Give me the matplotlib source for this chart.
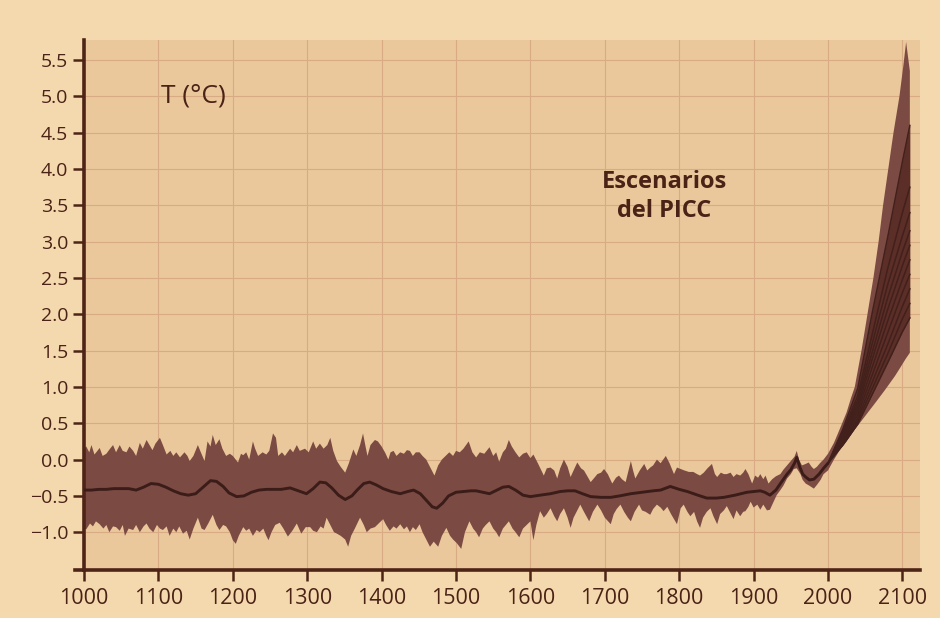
import numpy as np
import matplotlib
matplotlib.use("Agg")
import matplotlib.pyplot as plt

# ---------------- data ----------------
hist_up_years = [1000,1003,1007,1010,1014,1018,1021,1025,1030,1035,1039,1043,1048,1052,1057,1061,1066,1070,1075,1079,
    1084,1088,1092,1096,1102,1106,1111,1116,1120,1124,1129,1135,1139,1142,1147,1153,1157,1162,1166,1170,
    1173,1177,1182,1186,1191,1196,1200,1207,1211,1214,1218,1222,1227,1230,1234,1240,1245,1249,1254,1258,
    1261,1266,1270,1277,1281,1286,1290,1297,1302,1308,1312,1317,1322,1327,1331,1335,1340,1345,1351,1356,
    1362,1366,1371,1375,1378,1381,1385,1391,1395,1400,1405,1409,1412,1416,1420,1425,1430,1434,1438,1442,
    1446,1451,1455,1460,1465,1471,1476,1481,1487,1491,1496,1500,1505,1510,1517,1522,1527,1532,1538,1545,
    1550,1554,1558,1563,1567,1571,1575,1580,1585,1590,1595,1600,1604,1610,1618,1622,1627,1632,1636,1640,
    1645,1650,1654,1658,1663,1668,1672,1676,1681,1686,1690,1695,1699,1704,1710,1715,1719,1723,1728,1735,
    1738,1741,1747,1753,1757,1761,1765,1770,1775,1782,1787,1793,1797,1802,1807,1813,1819,1824,1828,1833,
    1838,1844,1848,1851,1856,1860,1864,1869,1873,1877,1882,1886,1889,1893,1898,1902,1906,1909,1913,1916,
    1920,1925,1930,1936,1940,1945,1950,1955,1958,1961,1965,1970,1974,1978,1981,1985,1990,1994]
hist_up = [0.15,0.18,0.10,0.20,0.07,0.12,0.16,0.05,0.08,0.15,0.20,0.10,0.20,0.12,0.10,0.18,0.12,0.05,0.23,0.15,
    0.27,0.20,0.13,0.22,0.30,0.20,0.07,0.12,0.05,0.10,0.03,0.10,0.05,-0.02,0.05,0.20,0.10,-0.02,0.25,0.18,
    0.34,0.20,0.28,0.15,0.05,0.08,0.05,-0.04,0.08,0.06,0.10,0.00,0.25,0.15,0.05,0.10,0.07,0.12,0.36,0.30,
    0.05,0.10,0.05,0.15,0.10,0.20,0.12,0.15,0.10,0.25,0.15,0.22,0.15,0.20,0.30,0.12,-0.02,-0.10,-0.18,-0.05,
    0.14,0.05,0.20,0.36,0.20,0.05,0.20,0.27,0.25,0.18,0.09,0.00,0.10,0.12,0.05,0.10,0.08,0.13,0.12,0.05,
    0.10,0.10,0.05,0.00,-0.10,-0.22,-0.08,0.00,0.06,0.10,0.05,0.12,0.10,0.15,0.25,0.10,0.03,0.10,0.08,0.17,
    0.05,0.10,-0.03,0.10,0.15,0.27,0.18,0.10,0.03,0.08,0.10,0.02,0.07,-0.05,-0.22,-0.12,-0.11,-0.15,-0.26,-0.12,
    0.00,-0.10,-0.24,-0.15,-0.04,-0.12,-0.15,-0.22,-0.31,-0.25,-0.20,-0.18,-0.13,-0.20,-0.33,-0.25,-0.22,-0.27,-0.31,-0.02,
    -0.15,-0.26,-0.15,-0.06,-0.15,-0.11,-0.08,0.00,-0.05,0.05,-0.05,-0.20,-0.11,-0.13,-0.15,-0.17,-0.17,-0.20,-0.22,-0.18,
    -0.12,-0.06,-0.20,-0.24,-0.18,-0.20,-0.20,-0.18,-0.24,-0.20,-0.22,-0.18,-0.13,-0.20,-0.33,-0.22,-0.25,-0.20,-0.27,-0.22,
    -0.33,-0.27,-0.23,-0.20,-0.14,-0.08,-0.02,0.04,0.12,0.00,-0.08,-0.06,-0.04,-0.10,-0.13,-0.10,-0.04,0.00]

hist_lo_years = [1000,1003,1008,1012,1016,1021,1026,1030,1034,1039,1043,1048,1052,1055,1060,1066,1070,1075,1080,1084,
    1088,1093,1098,1102,1106,1111,1115,1120,1124,1128,1133,1138,1142,1147,1153,1158,1162,1167,1173,1178,
    1182,1187,1191,1196,1200,1204,1208,1214,1218,1222,1227,1232,1236,1241,1245,1248,1252,1257,1263,1268,
    1274,1280,1286,1292,1298,1304,1308,1313,1318,1322,1326,1331,1336,1340,1345,1351,1355,1359,1364,1371,
    1376,1380,1385,1391,1396,1402,1406,1411,1416,1420,1425,1430,1434,1438,1442,1446,1451,1455,1460,1465,
    1470,1476,1481,1487,1492,1496,1501,1507,1512,1518,1523,1527,1531,1536,1540,1545,1550,1554,1558,1563,
    1567,1571,1576,1580,1585,1590,1595,1600,1604,1608,1613,1618,1622,1627,1632,1636,1640,1645,1650,1654,
    1658,1663,1667,1672,1679,1684,1690,1695,1700,1708,1712,1716,1721,1726,1731,1735,1740,1746,1750,1755,
    1761,1765,1770,1775,1779,1784,1789,1793,1797,1802,1806,1811,1815,1820,1824,1828,1832,1837,1842,1846,
    1851,1855,1860,1864,1868,1873,1877,1882,1886,1889,1893,1896,1900,1905,1909,1913,1918,1922,1926,1931,
    1936,1940,1945,1950,1954,1958,1963,1966,1970,1975,1981,1985,1990,1994]
hist_lo = [-0.95,-0.96,-0.88,-0.92,-0.85,-0.89,-0.95,-0.90,-1.00,-0.92,-0.93,-0.98,-0.90,-1.05,-0.95,-0.97,-0.90,-1.00,-0.92,-0.88,
    -0.95,-1.00,-0.90,-0.95,-0.97,-0.92,-1.05,-0.95,-1.00,-0.92,-1.02,-0.98,-1.10,-0.95,-0.80,-0.95,-0.97,-0.88,-0.76,-0.90,
    -0.97,-0.90,-0.92,-1.00,-1.11,-1.16,-1.05,-0.93,-0.98,-0.95,-1.05,-0.97,-1.00,-0.95,-1.05,-1.11,-1.00,-0.90,-0.87,-0.95,
    -1.06,-0.98,-0.88,-1.02,-0.93,-0.93,-0.98,-1.00,-0.92,-0.95,-0.80,-0.90,-1.00,-1.02,-1.05,-1.10,-1.20,-1.05,-0.95,-0.80,
    -0.90,-1.00,-0.95,-0.93,-0.88,-0.82,-0.90,-0.98,-0.92,-0.95,-0.89,-0.96,-0.92,-1.00,-0.93,-0.97,-0.89,-1.00,-1.10,-1.20,
    -1.13,-1.20,-1.05,-0.94,-1.05,-1.10,-1.15,-1.23,-1.00,-0.85,-0.95,-1.00,-1.07,-0.95,-0.90,-0.85,-0.95,-1.00,-1.07,-0.95,
    -0.90,-0.85,-0.95,-1.00,-1.07,-0.95,-0.90,-0.85,-1.11,-0.90,-0.71,-0.80,-0.75,-0.67,-0.78,-0.85,-0.75,-0.67,-0.80,-0.94,
    -0.80,-0.70,-0.62,-0.72,-0.85,-0.72,-0.62,-0.70,-0.80,-0.89,-0.75,-0.68,-0.62,-0.72,-0.80,-0.85,-0.72,-0.62,-0.70,-0.72,
    -0.76,-0.68,-0.62,-0.66,-0.71,-0.65,-0.75,-0.82,-0.89,-0.67,-0.62,-0.72,-0.78,-0.72,-0.85,-0.94,-0.80,-0.72,-0.67,-0.78,
    -0.89,-0.75,-0.70,-0.64,-0.72,-0.82,-0.70,-0.78,-0.72,-0.71,-0.65,-0.58,-0.66,-0.62,-0.69,-0.62,-0.70,-0.69,-0.60,-0.49,
    -0.42,-0.36,-0.26,-0.20,-0.13,-0.12,-0.20,-0.28,-0.33,-0.36,-0.40,-0.35,-0.28,-0.20]

scen_up_years = [2000,2008,2017,2025,2031,2036,2045,2053,2061,2068,2074,2081,2088,2096,2101,2105,2110]
scen_up = [0.08,0.23,0.45,0.65,0.85,1.00,1.50,2.00,2.50,3.00,3.50,4.00,4.50,5.00,5.40,5.75,5.35]
scen_lo_years = [2000,2008,2017,2025,2035,2050,2065,2076,2090,2098,2104,2110]
scen_lo = [-0.15,0.00,0.15,0.25,0.40,0.60,0.80,0.95,1.15,1.28,1.38,1.47]

mean_years = [1000,1010,1020,1030,1040,1050,1060,1070,1080,1090,1100,1110,1120,1130,1140,1150,1160,1170,1178,1187,
    1195,1205,1215,1225,1235,1245,1255,1265,1277,1288,1299,1308,1317,1325,1333,1342,1351,1360,1368,1376,
    1384,1393,1402,1413,1425,1435,1443,1452,1460,1468,1474,1482,1490,1500,1510,1520,1527,1536,1545,1555,
    1563,1571,1580,1590,1600,1613,1627,1640,1650,1660,1670,1681,1695,1708,1720,1735,1750,1765,1775,1788,
    1800,1811,1825,1837,1850,1860,1875,1891,1900,1909,1915,1922,1930,1936,1945,1950,1955,1958,1962,1966,
    1970,1975,1981,1988,1994,2000]
mean_T = [-0.42,-0.42,-0.41,-0.41,-0.40,-0.40,-0.40,-0.42,-0.38,-0.33,-0.34,-0.38,-0.43,-0.47,-0.49,-0.47,-0.38,-0.29,-0.30,-0.37,
    -0.46,-0.51,-0.50,-0.45,-0.42,-0.41,-0.41,-0.41,-0.39,-0.43,-0.47,-0.40,-0.31,-0.32,-0.39,-0.49,-0.55,-0.50,-0.41,-0.33,
    -0.31,-0.35,-0.40,-0.44,-0.47,-0.44,-0.42,-0.47,-0.56,-0.65,-0.67,-0.60,-0.50,-0.45,-0.44,-0.43,-0.43,-0.45,-0.47,-0.42,
    -0.38,-0.37,-0.42,-0.49,-0.51,-0.49,-0.47,-0.44,-0.43,-0.43,-0.47,-0.51,-0.52,-0.52,-0.50,-0.47,-0.45,-0.43,-0.42,-0.37,
    -0.41,-0.44,-0.49,-0.53,-0.53,-0.52,-0.49,-0.45,-0.44,-0.43,-0.45,-0.49,-0.42,-0.33,-0.20,-0.14,-0.05,0.03,-0.10,-0.20,
    -0.24,-0.28,-0.27,-0.20,-0.12,-0.05]

scen_years = [2000,2020,2040,2060,2080,2100,2110]
scenarios = [
    [-0.05,0.42,0.98,2.05,3.05,4.10,4.60],
    [-0.05,0.38,0.88,1.75,2.62,3.40,3.75],
    [-0.05,0.35,0.82,1.62,2.40,3.08,3.40],
    [-0.05,0.33,0.77,1.50,2.22,2.86,3.15],
    [-0.05,0.31,0.72,1.40,2.06,2.67,2.95],
    [-0.05,0.29,0.67,1.29,1.90,2.48,2.75],
    [-0.05,0.27,0.62,1.18,1.74,2.30,2.55],
    [-0.05,0.25,0.57,1.08,1.58,2.11,2.35],
    [-0.05,0.22,0.53,0.99,1.45,1.94,2.15],
    [-0.05,0.20,0.49,0.91,1.33,1.76,1.95],
]

x_ticks = [1000,1100,1200,1300,1400,1500,1600,1700,1800,1900,2000,2100]
y_ticks = [-1.0,-0.5,0.0,0.5,1.0,1.5,2.0,2.5,3.0,3.5,4.0,4.5,5.0,5.5]

# ---------------- style ----------------
page_bg = "#f5d9ae"
plot_bg = "#ebc89c"
grid_c = "#d8ab84"
band_c = "#7b4b43"
core_c = "#5c2e28"
line_c = "#3b1c18"
text_c = "#4a2216"
spine_c = "#4d2416"

plt.rcParams['font.family'] = ['Open Sans', 'DejaVu Sans']

fig = plt.figure(figsize=(9.4, 6.18), dpi=100, facecolor=page_bg)
ax = fig.add_axes([0.0894, 0.0777, 0.8896, 0.858])
ax.set_facecolor(plot_bg)
ax.set_xlim(1000, 2124)
ax.set_ylim(-1.52, 5.78)

ax.set_xticks(x_ticks)
ax.set_yticks(y_ticks)
ax.set_yticklabels([f"{v:.1f}".replace("-", "\u2212") for v in y_ticks])
ax.grid(True, color=grid_c, linewidth=0.8, zorder=0)
ax.set_axisbelow(True)

# envelope polygon
env_x = np.concatenate([hist_up_years, scen_up_years, scen_lo_years[::-1], hist_lo_years[::-1]])
env_y = np.concatenate([hist_up, scen_up, scen_lo[::-1], hist_lo[::-1]])
ax.fill(env_x, env_y, color=band_c, linewidth=0, zorder=2)

# dark core of scenarios
ax.fill_between(scen_years, scenarios[-1], scenarios[0], color=core_c, linewidth=0, zorder=3)
for s in scenarios:
    ax.plot(scen_years, s, color="#42201b", linewidth=1.1, zorder=4)

ax.plot(mean_years, mean_T, color=line_c, linewidth=2.1, zorder=5,
        solid_joinstyle="round", solid_capstyle="round")

for side in ["top", "right"]:
    ax.spines[side].set_visible(False)
for side in ["left", "bottom"]:
    ax.spines[side].set_color(spine_c)
    ax.spines[side].set_linewidth(2.6)
# small extension of the x axis line to the left of the y axis
ax.plot([-0.011, 0.0], [0.0, 0.0], transform=ax.transAxes, color=spine_c,
        linewidth=2.6, clip_on=False, zorder=6)
ax.tick_params(axis="both", colors=spine_c, labelcolor=text_c,
               length=8, width=1.8, direction="out")
ax.tick_params(axis="x", labelsize=15.5, pad=5)
ax.tick_params(axis="y", labelsize=14)

ax.text(1103, 5.0, "T (°C)", fontsize=19, color=text_c, ha="left", va="center")
ax.text(1780, 3.62, "Escenarios\ndel PICC", fontsize=17, fontweight="bold", color=text_c,
        ha="center", va="center", linespacing=1.25)

fig.savefig("out.png", dpi=100, facecolor=page_bg)
